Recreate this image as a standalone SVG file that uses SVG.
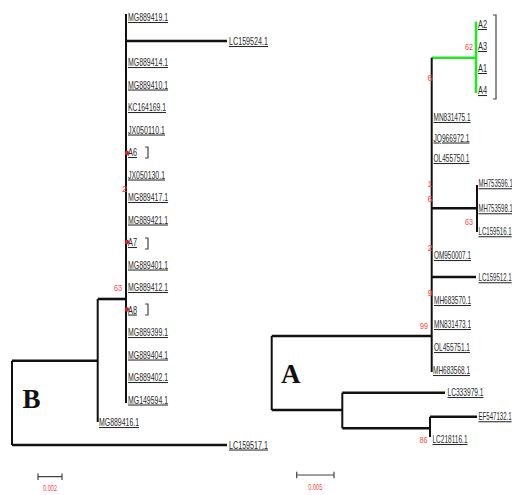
<svg xmlns="http://www.w3.org/2000/svg" width="512" height="495" viewBox="0 0 512 495">
<style>
.lb{font-family:"Liberation Sans",Arial,sans-serif;font-size:10.5px;fill:#2a2a2a;text-decoration:underline}
.rd{font-family:"Liberation Sans",Arial,sans-serif;font-size:9px;fill:#f44}
.big{font-family:"Liberation Serif","Times New Roman",serif;font-weight:bold;font-size:27px;fill:#111}
.h{stroke:#111;stroke-width:2.6;fill:none}
.v{stroke:#111;stroke-width:2;fill:none}
.g{stroke:#22e822;stroke-width:2.6;fill:none}
.br{stroke:#444;stroke-width:1.2;fill:none}
.sb{stroke:#444;stroke-width:1.2;fill:none}
</style>
<rect width="512" height="495" fill="#fff"/>
<g id="connectors">
<path class="v" d="M126 14V403"/>
<path class="h" d="M126 41H227"/>
<path class="h" d="M97.7 299H126"/>
<path class="v" d="M97.7 299V422"/>
<path class="h" d="M12 360.7H97.7"/>
<path class="v" d="M12 360.7V445"/>
<path class="h" d="M12 445H227"/>
<path class="g" d="M431.7 57.7H476"/>
<path class="g" d="M476 21.7V93"/>
<path class="v" d="M431.7 57.7V372"/>
<path class="h" d="M431.7 208.3H477"/>
<path class="v" d="M477 185V232"/>
<path class="h" d="M431.7 277H476"/>
<path class="h" d="M271.7 336H431.7"/>
<path class="v" d="M271.7 336V410"/>
<path class="h" d="M271.7 410H342.3"/>
<path class="v" d="M342.3 392.7V428.3"/>
<path class="h" d="M342.3 392.7H445"/>
<path class="h" d="M342.3 428.3H430"/>
<path class="v" d="M430 416.7V437"/>
<path class="h" d="M430 416.7H477"/>
<path class="br" d="M145 147H148V158H145"/>
<path class="br" d="M145 238H148V249H145"/>
<path class="br" d="M145 304H148V315H145"/>
<path class="br" d="M493 15H496V99H493"/>
<path class="sb" d="M38 476.7H62M38 473.5V480M62 473.5V480"/>
<path class="sb" d="M296.7 475H334M296.7 471.8V478.2M334 471.8V478.2"/>
</g>
<g id="markers">
<circle cx="127" cy="153" r="2.2" fill="#c22"/>
<circle cx="127" cy="242" r="2.2" fill="#c22"/>
<circle cx="127" cy="309.5" r="2.2" fill="#c22"/>
</g>
<g id="left-leaves">
<g id="n-MG889419"><text class="lb" x="128" y="21" textLength="40" lengthAdjust="spacingAndGlyphs">MG889419.1</text></g>
<g id="n-LC159524"><text class="lb" x="229" y="45" textLength="39" lengthAdjust="spacingAndGlyphs">LC159524.1</text></g>
<g id="n-MG889414"><text class="lb" x="128" y="66" textLength="40" lengthAdjust="spacingAndGlyphs">MG889414.1</text></g>
<g id="n-MG889410"><text class="lb" x="128" y="88.5" textLength="40" lengthAdjust="spacingAndGlyphs">MG889410.1</text></g>
<g id="n-KC164169"><text class="lb" x="128" y="111" textLength="38" lengthAdjust="spacingAndGlyphs">KC164169.1</text></g>
<g id="n-JX050110"><text class="lb" x="128" y="133.5" textLength="37" lengthAdjust="spacingAndGlyphs">JX050110.1</text></g>
<g id="n-A6"><text class="lb" x="128" y="156" textLength="9" lengthAdjust="spacingAndGlyphs">A6</text></g>
<g id="n-JX050130"><text class="lb" x="128" y="178.5" textLength="37" lengthAdjust="spacingAndGlyphs">JX050130.1</text></g>
<g id="n-MG889417"><text class="lb" x="128" y="201" textLength="40" lengthAdjust="spacingAndGlyphs">MG889417.1</text></g>
<g id="n-MG889421"><text class="lb" x="128" y="223.5" textLength="40" lengthAdjust="spacingAndGlyphs">MG889421.1</text></g>
<g id="n-A7"><text class="lb" x="128" y="246" textLength="9" lengthAdjust="spacingAndGlyphs">A7</text></g>
<g id="n-MG889401"><text class="lb" x="128" y="268.5" textLength="40" lengthAdjust="spacingAndGlyphs">MG889401.1</text></g>
<g id="n-MG889412"><text class="lb" x="128" y="291" textLength="40" lengthAdjust="spacingAndGlyphs">MG889412.1</text></g>
<g id="n-A8"><text class="lb" x="128" y="313.5" textLength="9" lengthAdjust="spacingAndGlyphs">A8</text></g>
<g id="n-MG889399"><text class="lb" x="128" y="336" textLength="40" lengthAdjust="spacingAndGlyphs">MG889399.1</text></g>
<g id="n-MG889404"><text class="lb" x="128" y="358.5" textLength="40" lengthAdjust="spacingAndGlyphs">MG889404.1</text></g>
<g id="n-MG889402"><text class="lb" x="128" y="381" textLength="40" lengthAdjust="spacingAndGlyphs">MG889402.1</text></g>
<g id="n-MG149594"><text class="lb" x="128" y="403.5" textLength="40" lengthAdjust="spacingAndGlyphs">MG149594.1</text></g>
<g id="n-MG889416"><text class="lb" x="99" y="426" textLength="40" lengthAdjust="spacingAndGlyphs">MG889416.1</text></g>
<g id="n-LC159517"><text class="lb" x="229" y="448.5" textLength="39" lengthAdjust="spacingAndGlyphs">LC159517.1</text></g>
</g>
<g id="right-leaves">
<g id="n-A2"><text class="lb" x="478" y="28" textLength="9" lengthAdjust="spacingAndGlyphs">A2</text></g>
<g id="n-A3"><text class="lb" x="478" y="50" textLength="9" lengthAdjust="spacingAndGlyphs">A3</text></g>
<g id="n-A1"><text class="lb" x="478" y="72" textLength="9" lengthAdjust="spacingAndGlyphs">A1</text></g>
<g id="n-A4"><text class="lb" x="478" y="94" textLength="9" lengthAdjust="spacingAndGlyphs">A4</text></g>
<g id="n-MN831475"><text class="lb" x="433.5" y="121" textLength="37" lengthAdjust="spacingAndGlyphs">MN831475.1</text></g>
<g id="n-JQ966972"><text class="lb" x="433.5" y="141.5" textLength="36" lengthAdjust="spacingAndGlyphs">JQ966972.1</text></g>
<g id="n-OL455750"><text class="lb" x="433.5" y="162" textLength="36" lengthAdjust="spacingAndGlyphs">OL455750.1</text></g>
<g id="n-MH753596"><text class="lb" transform="translate(478.5 187) scale(0.57 1)">MH753596.1</text></g>
<g id="n-MH753598"><text class="lb" transform="translate(478.5 212) scale(0.57 1)">MH753598.1</text></g>
<g id="n-LC159516"><text class="lb" transform="translate(478.5 235) scale(0.58 1)">LC159516.1</text></g>
<g id="n-OM950007"><text class="lb" x="434" y="259" textLength="37" lengthAdjust="spacingAndGlyphs">OM950007.1</text></g>
<g id="n-LC159512"><text class="lb" transform="translate(478.5 281) scale(0.58 1)">LC159512.1</text></g>
<g id="n-MH683570"><text class="lb" x="434" y="304" textLength="37" lengthAdjust="spacingAndGlyphs">MH683570.1</text></g>
<g id="n-MN831473"><text class="lb" x="434" y="328" textLength="37" lengthAdjust="spacingAndGlyphs">MN831473.1</text></g>
<g id="n-OL455751"><text class="lb" x="434" y="351" textLength="36" lengthAdjust="spacingAndGlyphs">OL455751.1</text></g>
<g id="n-MH683568"><text class="lb" x="433" y="374" textLength="37" lengthAdjust="spacingAndGlyphs">MH683568.1</text></g>
<g id="n-LC333979"><text class="lb" x="447.5" y="396" textLength="36" lengthAdjust="spacingAndGlyphs">LC333979.1</text></g>
<g id="n-EF547132"><text class="lb" transform="translate(478.5 420) scale(0.58 1)">EF547132.1</text></g>
<g id="n-LC218116"><text class="lb" x="432.5" y="443" textLength="35" lengthAdjust="spacingAndGlyphs">LC218116.1</text></g>
</g>
<g id="support-values">
<text class="rd" x="122" y="192">2</text>
<text class="rd" x="114" y="291" textLength="8" lengthAdjust="spacingAndGlyphs">63</text>
<text class="rd" x="465" y="50" textLength="8" lengthAdjust="spacingAndGlyphs">62</text>
<text class="rd" x="427.5" y="81">6</text>
<text class="rd" x="427.5" y="186.5">1</text>
<text class="rd" x="427.5" y="202">6</text>
<text class="rd" x="465" y="224.5" textLength="8" lengthAdjust="spacingAndGlyphs">63</text>
<text class="rd" x="427.5" y="251">2</text>
<text class="rd" x="427.5" y="295.5">9</text>
<text class="rd" x="420" y="329" textLength="8" lengthAdjust="spacingAndGlyphs">99</text>
<text class="rd" x="419.5" y="443" textLength="8" lengthAdjust="spacingAndGlyphs">86</text>
<text class="rd" x="50" y="491" text-anchor="middle" font-size="7.5" textLength="14" lengthAdjust="spacingAndGlyphs">0.002</text>
<text class="rd" x="315.3" y="490" text-anchor="middle" font-size="7.5" textLength="14" lengthAdjust="spacingAndGlyphs">0.005</text>
</g>
<g id="panel-labels">
<text class="big" x="22.5" y="408">B</text>
<text class="big" x="281" y="383">A</text>
</g>
</svg>
